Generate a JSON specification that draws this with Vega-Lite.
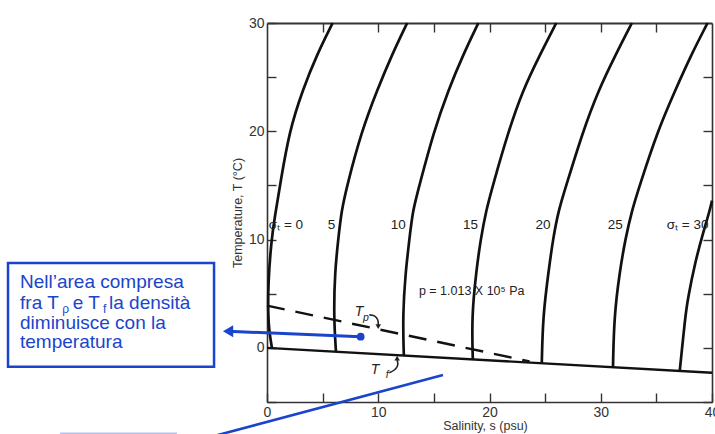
{
"$schema": "https://vega.github.io/schema/vega-lite/v6.json",
"width": 445,
"height": 379,
"autosize": {"type": "none"},
"padding": {"left": 267, "top": 23, "right": 3, "bottom": 32},
"background": "#ffffff",
"config": {
  "view": {"stroke": null},
  "font": "Liberation Sans",
  "axis": {"zindex": 1, "grid": false, "domainColor": "#333333", "domainWidth": 1.6, "tickColor": "#333333", "tickWidth": 1.4, "labelFont": "Liberation Sans", "labelFontSize": 14, "labelColor": "#333333", "labelFlush": false, "labelOverlap": false, "titleFont": "Liberation Sans", "titleFontSize": 12.5, "titleFontWeight": "normal", "titleColor": "#333333"}
},
"datasets": {
  "iso": [
    {"sig": 0, "S": 0.45, "T": -0.03}, {"sig": 0, "S": 0.2, "T": 1.5}, {"sig": 0, "S": 0.1, "T": 3}, {"sig": 0, "S": 0.1, "T": 6}, {"sig": 0, "S": 0.4, "T": 10}, {"sig": 0, "S": 0.7, "T": 12.1}, {"sig": 0, "S": 1.2, "T": 15.2}, {"sig": 0, "S": 2.0, "T": 20}, {"sig": 0, "S": 3.2, "T": 23.8}, {"sig": 0, "S": 4.45, "T": 27}, {"sig": 0, "S": 5.9, "T": 30},
    {"sig": 5, "S": 6.2, "T": -0.36}, {"sig": 5, "S": 6.0, "T": 2.9}, {"sig": 5, "S": 6.1, "T": 7}, {"sig": 5, "S": 6.4, "T": 10}, {"sig": 5, "S": 6.7, "T": 12.7}, {"sig": 5, "S": 7.2, "T": 15}, {"sig": 5, "S": 8.5, "T": 20}, {"sig": 5, "S": 9.9, "T": 23.8}, {"sig": 5, "S": 11.2, "T": 27}, {"sig": 5, "S": 12.6, "T": 30},
    {"sig": 10, "S": 12.3, "T": -0.71}, {"sig": 10, "S": 12.2, "T": 2.9}, {"sig": 10, "S": 12.45, "T": 7}, {"sig": 10, "S": 12.8, "T": 10}, {"sig": 10, "S": 13.1, "T": 12.7}, {"sig": 10, "S": 13.7, "T": 15}, {"sig": 10, "S": 15.0, "T": 20}, {"sig": 10, "S": 16.3, "T": 23.8}, {"sig": 10, "S": 17.6, "T": 27}, {"sig": 10, "S": 19.0, "T": 30},
    {"sig": 15, "S": 18.5, "T": -1.06}, {"sig": 15, "S": 18.4, "T": 2.9}, {"sig": 15, "S": 18.8, "T": 7}, {"sig": 15, "S": 19.2, "T": 10}, {"sig": 15, "S": 19.7, "T": 12.7}, {"sig": 15, "S": 20.3, "T": 15}, {"sig": 15, "S": 21.7, "T": 20}, {"sig": 15, "S": 23.0, "T": 23.8}, {"sig": 15, "S": 24.5, "T": 27}, {"sig": 15, "S": 26.0, "T": 30},
    {"sig": 20, "S": 24.7, "T": -1.42}, {"sig": 20, "S": 24.8, "T": 2.9}, {"sig": 20, "S": 25.3, "T": 7}, {"sig": 20, "S": 25.7, "T": 10}, {"sig": 20, "S": 26.2, "T": 12.7}, {"sig": 20, "S": 26.9, "T": 15}, {"sig": 20, "S": 28.4, "T": 20}, {"sig": 20, "S": 29.8, "T": 23.8}, {"sig": 20, "S": 31.3, "T": 27}, {"sig": 20, "S": 32.8, "T": 30},
    {"sig": 25, "S": 31.1, "T": -1.79}, {"sig": 25, "S": 31.2, "T": 2.9}, {"sig": 25, "S": 31.7, "T": 7}, {"sig": 25, "S": 32.2, "T": 10}, {"sig": 25, "S": 32.8, "T": 12.7}, {"sig": 25, "S": 33.5, "T": 15}, {"sig": 25, "S": 35.1, "T": 20}, {"sig": 25, "S": 36.7, "T": 23.8}, {"sig": 25, "S": 38.1, "T": 27}, {"sig": 25, "S": 39.6, "T": 30},
    {"sig": 30, "S": 37.1, "T": -2.13}, {"sig": 30, "S": 37.6, "T": 2.9}, {"sig": 30, "S": 37.8, "T": 4.4}, {"sig": 30, "S": 38.5, "T": 8}, {"sig": 30, "S": 39.2, "T": 10.6}, {"sig": 30, "S": 39.8, "T": 12.7}, {"sig": 30, "S": 40.0, "T": 13.6}
  ],
  "tf": [{"S": 0, "T": 0}, {"S": 40, "T": -2.3}],
  "tp": [{"S": 0, "T": 3.9}, {"S": 23.6, "T": -1.25}],
  "isoLabels": [
    {"S": 1.7, "T": 11.35, "label": "σₜ = 0"},
    {"S": 5.8, "T": 11.35, "label": "5"},
    {"S": 11.8, "T": 11.35, "label": "10"},
    {"S": 18.3, "T": 11.35, "label": "15"},
    {"S": 24.8, "T": 11.35, "label": "20"},
    {"S": 31.3, "T": 11.35, "label": "25"},
    {"S": 37.8, "T": 11.35, "label": "σₜ = 30"}
  ],
  "pLabel": [{"S": 18.4, "T": 5.26, "label": "p = 1.013 X 10⁵ Pa"}],
  "tLetters": [{"S": 8.27, "T": 3.31, "label": "T"}, {"S": 9.71, "T": -2.09, "label": "T"}],
  "tSubs": [{"S": 8.9, "T": 2.8, "label": "p"}, {"S": 10.8, "T": -2.5, "label": "f"}],
  "smallArrows": [
    {"a": "p", "k": 0, "S": 9.2, "T": 3.05}, {"a": "p", "k": 1, "S": 9.65, "T": 2.95}, {"a": "p", "k": 2, "S": 9.95, "T": 2.6}, {"a": "p", "k": 3, "S": 10.0, "T": 2.1},
    {"a": "f", "k": 0, "S": 11.0, "T": -2.3}, {"a": "f", "k": 1, "S": 11.5, "T": -2.0}, {"a": "f", "k": 2, "S": 11.75, "T": -1.6}, {"a": "f", "k": 3, "S": 11.7, "T": -1.1}
  ],
  "headDown": [{"S": 10.0, "T": 1.95}],
  "headUp": [{"S": 11.7, "T": -0.95}],
  "box": [{"S": -23.28, "S2": -4.76, "T": 7.84, "T2": -1.75}],
  "boxText": [
    {"S": -22.2, "T": 5.53, "label": "Nell’area compresa"},
    {"S": -22.2, "T": 3.63, "label": "fra T"},
    {"S": -17.45, "T": 3.63, "label": "e T"},
    {"S": -14.2, "T": 3.63, "label": "la densità"},
    {"S": -22.2, "T": 1.78, "label": "diminuisce con la"},
    {"S": -22.2, "T": -0.01, "label": "temperatura"}
  ],
  "boxSubs": [{"S": -18.4, "T": 3.25, "label": "ρ"}, {"S": -14.75, "T": 3.25, "label": "f"}],
  "blueArrow": [{"S": 8.42, "T": 1.03}, {"S": -3.5, "T": 1.53}],
  "blueHead": [{"S": -3.5, "T": 1.53}],
  "blueDot": [{"S": 8.42, "T": 1.03}],
  "blueLine": [{"S": -4.6, "T": -8.1}, {"S": 15.82, "T": -2.5}],
  "faintLine": [{"S": -18.6, "T": -7.9}, {"S": -8.09, "T": -7.9}]
},
"layer": [
  {
    "mark": {"type": "rect", "color": "#f1f1f1", "clip": false},
    "encoding": {
      "x": {"datum": -4.0, "type": "quantitative", "scale": {"domain": [0, 40], "nice": false, "zero": false},
        "axis": {"orient": "bottom", "values": [0, 5, 10, 15, 20, 25, 30, 35, 40], "labelExpr": "datum.value % 10 === 0 ? datum.label : ''", "tickSize": -9, "labelPadding": 12, "title": "Salinity, s (psu)", "titleX": 218, "titleY": 23, "titleBaseline": "middle", "titleAlign": "center"}},
      "x2": {"datum": 40.3},
      "y": {"datum": -8.1, "type": "quantitative", "scale": {"domain": [-5, 30], "nice": false, "zero": false},
        "axis": {"orient": "left", "values": [-5, 0, 5, 10, 15, 20, 25, 30], "labelExpr": "datum.value % 10 === 0 && datum.value >= 0 ? datum.label : ''", "tickSize": -9, "labelPadding": 12, "title": "Temperature, T (°C)", "titleX": -30, "titleY": 189.5, "titleAngle": -90, "titleBaseline": "middle", "titleAlign": "center"}},
      "y2": {"datum": 32.2}
    }
  },
  {
    "data": {"name": "iso"},
    "mark": {"type": "line", "interpolate": "basis", "color": "#111111", "strokeWidth": 2.7},
    "encoding": {
      "x": {"field": "S", "type": "quantitative", "scale": {"domain": [0, 40], "nice": false, "zero": false},
        "axis": {"orient": "top", "values": [5, 10, 15, 20, 25, 30, 35], "labels": false, "tickSize": -9, "title": null, "domainWidth": 2}},
      "y": {"field": "T", "type": "quantitative", "scale": {"domain": [-5, 30], "nice": false, "zero": false},
        "axis": {"orient": "right", "values": [-5, 0, 5, 10, 15, 20, 25], "labels": false, "tickSize": -9, "title": null}},
      "detail": {"field": "sig", "type": "nominal"},
      "order": {"field": "T", "type": "quantitative"}
    }
  },
  {
    "data": {"name": "tf"},
    "mark": {"type": "line", "color": "#111111", "strokeWidth": 2.4},
    "encoding": {
      "x": {"field": "S", "type": "quantitative", "axis": null},
      "y": {"field": "T", "type": "quantitative", "axis": null}
    }
  },
  {
    "data": {"name": "tp"},
    "mark": {"type": "line", "color": "#111111", "strokeWidth": 2.4, "strokeDash": [18, 11]},
    "encoding": {
      "x": {"field": "S", "type": "quantitative", "axis": null},
      "y": {"field": "T", "type": "quantitative", "axis": null}
    }
  },
  {
    "data": {"name": "isoLabels"},
    "mark": {"type": "text", "font": "Liberation Sans", "fontSize": 13.5, "color": "#222222", "align": "center", "baseline": "middle"},
    "encoding": {
      "x": {"field": "S", "type": "quantitative", "axis": null},
      "y": {"field": "T", "type": "quantitative", "axis": null},
      "text": {"field": "label"}
    }
  },
  {
    "data": {"name": "pLabel"},
    "mark": {"type": "text", "font": "Liberation Sans", "fontSize": 12.5, "color": "#222222", "align": "center", "baseline": "middle"},
    "encoding": {
      "x": {"field": "S", "type": "quantitative", "axis": null},
      "y": {"field": "T", "type": "quantitative", "axis": null},
      "text": {"field": "label"}
    }
  },
  {
    "data": {"name": "tLetters"},
    "mark": {"type": "text", "font": "Liberation Sans", "fontSize": 14, "fontStyle": "italic", "color": "#222222", "align": "center", "baseline": "middle"},
    "encoding": {
      "x": {"field": "S", "type": "quantitative", "axis": null},
      "y": {"field": "T", "type": "quantitative", "axis": null},
      "text": {"field": "label"}
    }
  },
  {
    "data": {"name": "tSubs"},
    "mark": {"type": "text", "font": "Liberation Sans", "fontSize": 10.5, "fontStyle": "italic", "color": "#222222", "align": "center", "baseline": "middle"},
    "encoding": {
      "x": {"field": "S", "type": "quantitative", "axis": null},
      "y": {"field": "T", "type": "quantitative", "axis": null},
      "text": {"field": "label"}
    }
  },
  {
    "data": {"name": "smallArrows"},
    "mark": {"type": "line", "interpolate": "catmull-rom", "color": "#222222", "strokeWidth": 1.6},
    "encoding": {
      "x": {"field": "S", "type": "quantitative", "axis": null},
      "y": {"field": "T", "type": "quantitative", "axis": null},
      "detail": {"field": "a", "type": "nominal"},
      "order": {"field": "k", "type": "quantitative"}
    }
  },
  {
    "data": {"name": "headDown"},
    "mark": {"type": "point", "shape": "triangle-down", "filled": true, "color": "#222222", "size": 30, "opacity": 1},
    "encoding": {
      "x": {"field": "S", "type": "quantitative", "axis": null},
      "y": {"field": "T", "type": "quantitative", "axis": null}
    }
  },
  {
    "data": {"name": "headUp"},
    "mark": {"type": "point", "shape": "triangle-up", "filled": true, "color": "#222222", "size": 30, "opacity": 1},
    "encoding": {
      "x": {"field": "S", "type": "quantitative", "axis": null},
      "y": {"field": "T", "type": "quantitative", "axis": null}
    }
  },
  {
    "data": {"name": "box"},
    "mark": {"type": "rect", "fill": "#ffffff", "stroke": "#1a44cc", "strokeWidth": 2.5, "clip": false},
    "encoding": {
      "x": {"field": "S", "type": "quantitative", "axis": null},
      "x2": {"field": "S2"},
      "y": {"field": "T", "type": "quantitative", "axis": null},
      "y2": {"field": "T2"}
    }
  },
  {
    "data": {"name": "boxText"},
    "mark": {"type": "text", "font": "Liberation Sans", "fontSize": 19, "color": "#1a44cc", "align": "left", "baseline": "alphabetic"},
    "encoding": {
      "x": {"field": "S", "type": "quantitative", "axis": null},
      "y": {"field": "T", "type": "quantitative", "axis": null},
      "text": {"field": "label"}
    }
  },
  {
    "data": {"name": "boxSubs"},
    "mark": {"type": "text", "font": "Liberation Sans", "fontSize": 12, "color": "#1a44cc", "align": "left", "baseline": "alphabetic"},
    "encoding": {
      "x": {"field": "S", "type": "quantitative", "axis": null},
      "y": {"field": "T", "type": "quantitative", "axis": null},
      "text": {"field": "label"}
    }
  },
  {
    "data": {"name": "blueArrow"},
    "mark": {"type": "line", "color": "#1a44cc", "strokeWidth": 3},
    "encoding": {
      "x": {"field": "S", "type": "quantitative", "axis": null},
      "y": {"field": "T", "type": "quantitative", "axis": null}
    }
  },
  {
    "data": {"name": "blueHead"},
    "mark": {"type": "point", "shape": "triangle-left", "filled": true, "color": "#1a44cc", "size": 140, "opacity": 1},
    "encoding": {
      "x": {"field": "S", "type": "quantitative", "axis": null},
      "y": {"field": "T", "type": "quantitative", "axis": null}
    }
  },
  {
    "data": {"name": "blueDot"},
    "mark": {"type": "point", "shape": "circle", "filled": true, "color": "#1a44cc", "size": 60, "opacity": 1},
    "encoding": {
      "x": {"field": "S", "type": "quantitative", "axis": null},
      "y": {"field": "T", "type": "quantitative", "axis": null}
    }
  },
  {
    "data": {"name": "blueLine"},
    "mark": {"type": "line", "color": "#1a44cc", "strokeWidth": 2.6},
    "encoding": {
      "x": {"field": "S", "type": "quantitative", "axis": null},
      "y": {"field": "T", "type": "quantitative", "axis": null}
    }
  },
  {
    "data": {"name": "faintLine"},
    "mark": {"type": "line", "color": "#b6c0e8", "strokeWidth": 2},
    "encoding": {
      "x": {"field": "S", "type": "quantitative", "axis": null},
      "y": {"field": "T", "type": "quantitative", "axis": null}
    }
  }
],
"resolve": {"axis": {"x": "independent", "y": "independent"}}
}
